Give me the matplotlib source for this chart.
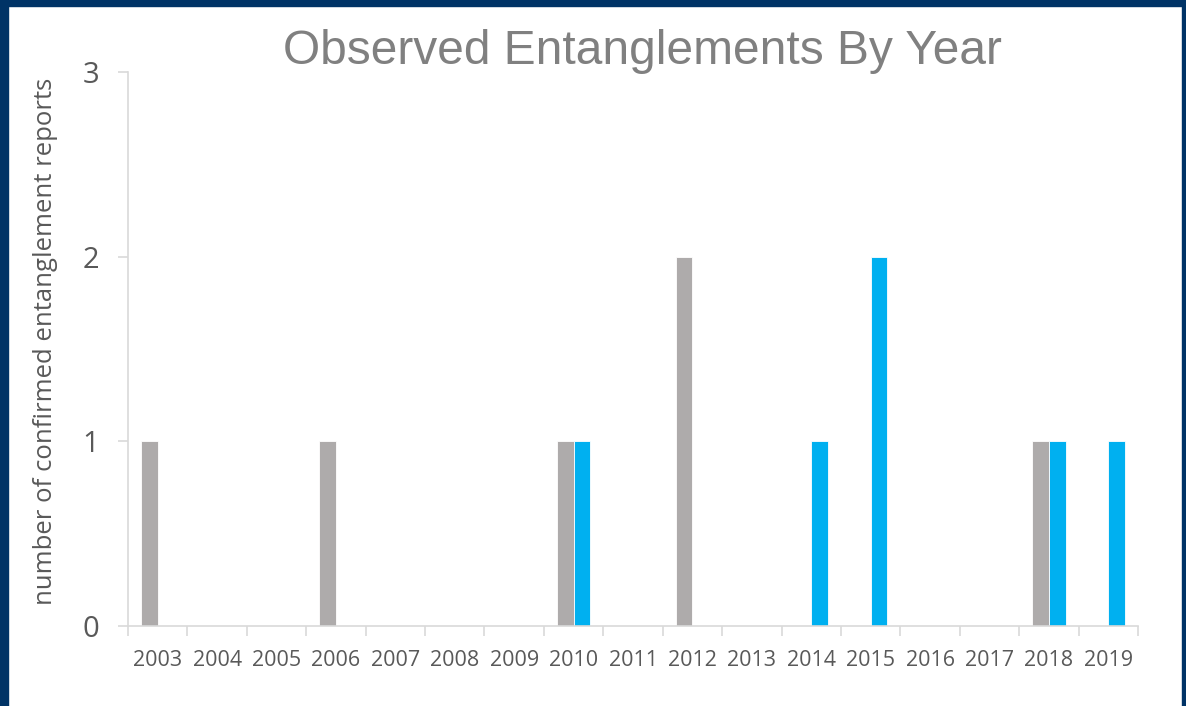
import matplotlib
matplotlib.use("Agg")
import matplotlib.pyplot as plt
import numpy as np
from matplotlib.patches import Rectangle

years = ["2003", "2004", "2005", "2006", "2007", "2008", "2009", "2010", "2011",
         "2012", "2013", "2014", "2015", "2016", "2017", "2018", "2019"]
series_gray = [1, 0, 0, 1, 0, 0, 0, 1, 0, 2, 0, 0, 0, 0, 0, 1, 0]
series_blue = [0, 0, 0, 0, 0, 0, 0, 1, 0, 0, 0, 1, 2, 0, 0, 1, 1]
yticks = [0, 1, 2, 3]

W, H = 1186, 706
fig = plt.figure(figsize=(W / 100, H / 100), dpi=100)
fig.patch.set_facecolor("white")

# dark blue frame
frame_col = "#003366"
fig.patches.append(Rectangle((0, 0), 8 / W, 1, transform=fig.transFigure, color=frame_col, zorder=0))
fig.patches.append(Rectangle((0, 1 - 6 / H), 1, 6 / H, transform=fig.transFigure, color=frame_col, zorder=0))
fig.patches.append(Rectangle((1 - 4 / W, 0), 4 / W, 1, transform=fig.transFigure, color=frame_col, zorder=0))

left, right = 128 / W, 1138 / W
bottom, top = 1 - 626 / H, 1 - 72 / H
ax = fig.add_axes([left, bottom, right - left, top - bottom])

x = np.arange(len(years))
bw = 0.28
ax.bar(x - bw / 2, series_gray, width=bw, color="#AEABAB", edgecolor="white", linewidth=0.6, zorder=2)
ax.bar(x + bw / 2, series_blue, width=bw, color="#00B0F0", edgecolor="white", linewidth=0.6, zorder=2)

ax.set_xlim(-0.5, len(years) - 0.5)
ax.set_ylim(0, 3)
ax.set_yticks(yticks)
ax.set_yticklabels([str(v) for v in yticks], fontsize=21, color="#595959", family="Open Sans")
ax.set_xticks(np.arange(len(years) + 1) - 0.5, minor=False)
ax.set_xticklabels([""] * (len(years) + 1))
ax.set_xticks(x, minor=True)
ax.set_xticklabels(years, minor=True, fontsize=15.5, color="#595959", family="Open Sans")
ax.tick_params(axis="x", which="major", length=7, color="#D9D9D9", width=1.2)
ax.tick_params(axis="x", which="minor", length=0, pad=17)
ax.tick_params(axis="y", length=7, color="#D9D9D9", width=1.2, pad=14)

for s in ["top", "right"]:
    ax.spines[s].set_visible(False)
for s in ["left", "bottom"]:
    ax.spines[s].set_color("#D9D9D9")
    ax.spines[s].set_linewidth(1.2)

ax.set_ylabel("number of confirmed entanglement reports", fontsize=18.5, color="#595959",
              family="Open Sans", va="center")
ax.yaxis.set_label_coords(-0.082, 0.513)
fig.text(642 / W, 1 - 52 / H, "Observed Entanglements By Year", fontsize=34.5, color="#808080",
         family="Liberation Sans", ha="center", va="center")

fig.savefig("out.png", dpi=100)
